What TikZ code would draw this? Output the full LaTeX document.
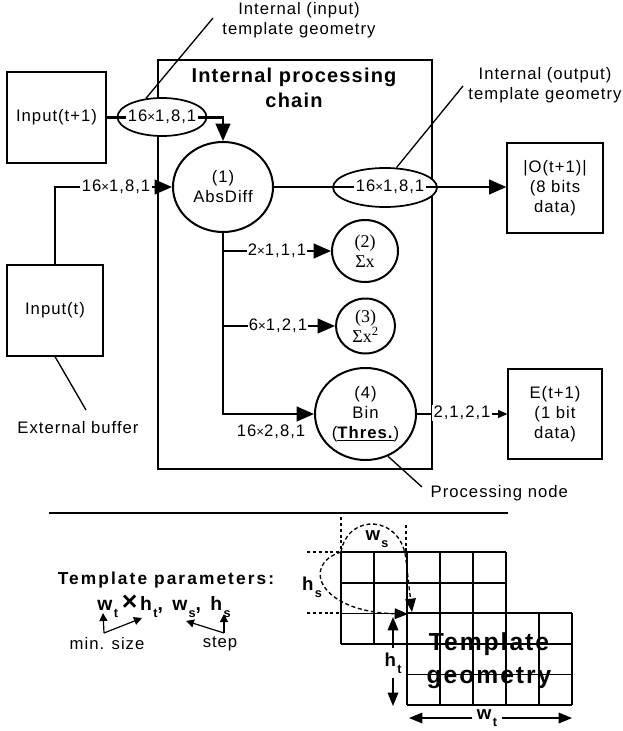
\documentclass[tikz,border=0pt]{standalone}
\usepackage{fontspec}
\setmainfont{Liberation Sans}[LetterSpace=6]
\newfontfamily\serx{Liberation Serif}
\usetikzlibrary{arrows.meta,shapes.geometric}
\newcommand\lsub[1]{\raisebox{-0.7ex}{\fontsize{9.5}{9.5}\selectfont\hspace{1pt}#1}}
\newcommand\tms{{\fontsize{10}{10}\selectfont ×}}
\begin{document}
\begin{tikzpicture}[x=0.75pt,y=-0.75pt,
  body/.style={font=\fontsize{12.5}{15}\selectfont},
  boxnode/.style={draw, line width=0.9pt, align=center, body, inner sep=0pt},
  proc/.style={ellipse, draw, line width=1.5pt, fill=white, align=center, inner sep=0pt, body},
  tmpl/.style={ellipse, draw, line width=1.3pt, fill=white, inner sep=0pt},
  conn/.style={line width=1.6pt},
  bigtip/.style={-{Triangle[length=13pt,width=11pt]}},
  smalltip/.style={-{Triangle[length=7pt,width=6pt]}},
  tinytip/.style={-{Triangle[length=6pt,width=6pt]}},
  midtip/.style={-{Triangle[length=10pt,width=8pt]}},
  thinl/.style={line width=0.9pt},
  onl/.style={fill=white, inner sep=1pt, body},
  leader/.style={line width=1pt},
  gridl/.style={line width=1.2pt},
  dots/.style={line width=1pt, dash pattern=on 2.2pt off 2.2pt},
  dashl/.style={line width=1pt, dash pattern=on 3pt off 2pt},
  lbf/.style={font=\bfseries\fontsize{14}{16}\selectfont}
]
\useasboundingbox (0,0) rectangle (623,731);

% processing chain frame
\node[boxnode, minimum width=205.5pt, minimum height=306.75pt] (chain) at (295,264.5) {};
\node[font=\bfseries\fontsize{15}{18.75}\selectfont, align=center] (title) at (294,88) {Internal processing\\chain};

% external boxes
\node[boxnode, minimum width=74.25pt, minimum height=68.25pt] (in1) at (56.5,117.5) {Input(t+1)};
\node[boxnode, minimum width=72pt, minimum height=68.25pt] (in0) at (55,310.5) {Input(t)};
\node[boxnode, minimum width=72pt, minimum height=67.5pt] (obox) at (555,188) {|O(t+1)|\\(8 bits\\data)};
\node[boxnode, minimum width=70.5pt, minimum height=67.5pt] (ebox) at (555,414) {E(t+1)\\(1 bit\\data)};

% template ellipses
\node[tmpl, minimum width=66.75pt, minimum height=28.5pt] (t1) at (162,117) {};
\node[tmpl, minimum width=78pt, minimum height=29.25pt] (t2) at (385,187.5) {};

% processing nodes
\node[proc, minimum width=75pt, minimum height=67.5pt] (abs) at (223,187) {(1)\\AbsDiff};
\node[proc, minimum width=49.5pt, minimum height=46.5pt, font=\serx\fontsize{13.5}{15}\selectfont] (s1) at (365,251) {(2)\\Σx};
\node[proc, minimum width=44.25pt, minimum height=41.25pt, font=\serx\fontsize{13.5}{15}\selectfont] (s2) at (365.5,326) {(3)\\Σx\textsuperscript{2}};
\node[proc, minimum width=75.75pt, minimum height=69pt] (bin) at (365.5,414) {(4)\\Bin\\(\underline{\textbf{Thres.}})};

% connectors
\draw[conn,bigtip] (in1.east) -| (abs.north);
\node[onl] (l1) at (162,117) {16\tms1,8,1};
\draw[conn,bigtip] (in0.north) |- (abs.west);
\node[onl] (l0) at (116,187) {16\tms1,8,1};
\draw[conn,bigtip] (abs.east) -- (abs.east -| obox.west);
\node[onl] (l2) at (390,187) {16\tms1,8,1};
\draw[conn,bigtip] (abs.south) |- (bin.west);
\draw[conn,bigtip] (abs.south |- s1.west) -- (s1.west);
\node[onl] (l3) at (277,251) {2\tms1,1,1};
\draw[conn,bigtip] (abs.south |- s2.west) -- (s2.west);
\node[onl] (l4) at (278,326) {6\tms1,2,1};
\node[body] (l5) at (271,432) {16\tms2,8,1};
\draw[thinl,smalltip] (bin.east) -- (bin.east -| ebox.west);
\node[onl] (l6) at (462,413) {2,1,2,1};

% leaders and annotations
\node[body, align=center] (lab1) at (299,20) {Internal (input)\\template geometry};
\coordinate (c1) at (213,18);
\draw[leader] (t1.131) -- (c1);
\node[body, align=center] (lab2) at (545,85) {Internal (output)\\template geometry};
\coordinate (c2) at (463,86);
\draw[leader] (t2.60) -- (c2);
\node[body, anchor=west] (lab3) at (426,493) {Processing node};
\coordinate (c3) at (422,487);
\draw[leader] (bin.-62) -- (c3);
\node[body] (lab4) at (78,428) {External buffer};
\coordinate (c4) at (86,410);
\draw[leader] (in0.south) -- (c4);

% separator
\draw[line width=1pt] (49,513) -- (508,513);

% template parameters
\node[font=\bfseries\fontsize{13}{15}\selectfont\addfontfeatures{LetterSpace=12}] (tp) at (166,580) {Template parameters:};
\node[font=\bfseries\fontsize{14.5}{15}\selectfont\addfontfeatures{LetterSpace=10}] (fm) at (164,606) {w\lsub{t}\hspace{3pt}{\fontsize{20}{20}\selectfont ×}\hspace{2pt}h\lsub{t},\hspace{7pt}w\lsub{s},\hspace{7pt}h\lsub{s}};
\node[body] (ms) at (107,644) {min. size};
\node[body] (st) at (220,644) {step};
\coordinate (m0) at (104,633);
\coordinate (mw) at (103,613);
\coordinate (mh) at (142,618);
\coordinate (s0) at (224,633);
\coordinate (sh) at (224,614);
\coordinate (sw) at (186,621);
\draw[thinl,tinytip] (m0) -- (mw);
\draw[thinl,tinytip] (m0) -- (mh);
\draw[thinl,tinytip] (s0) -- (sh);
\draw[thinl,tinytip] (s0) -- (sw);

% grids
\foreach \i in {0,...,5} \draw[gridl] ({341+33*\i},552) -- ({341+33*\i},644);
\foreach \j in {0,...,3} \draw[gridl] (341,{552+30.7*\j}) -- (506,{552+30.7*\j});
\fill[white] (407,613) rectangle (572,705);
\foreach \i in {0,...,5} \draw[gridl] ({407+33*\i},613) -- ({407+33*\i},705);
\foreach \j in {0,...,3} \draw[gridl] (407,{613+30.7*\j}) -- (572,{613+30.7*\j});
\node[font=\bfseries\fontsize{18.5}{24.75}\selectfont\addfontfeatures{LetterSpace=8}, align=center] (tg) at (489,661) {Template\\geometry};

% dotted guides
\draw[dots] (341,517) -- (341,552);
\draw[dots] (406,525) -- (406,555);
\draw[dots] (307,552) -- (341,552);
\draw[dots] (307,613) -- (341,613);

% step curves
\coordinate (g0) at (341,552);
\coordinate (gw) at (412,612);
\coordinate (gh) at (408,614);
\draw[dashl,midtip] (g0) .. controls (348,512) and (402,515) .. (406,560) -- (gw);
\draw[dashl,midtip] (g0) .. controls (300,565) and (320,612) .. (gh);
\node[lbf] (ws) at (377,539) {w\lsub{s}};
\node[lbf] (hs) at (312,587) {h\lsub{s}};

% size arrows
\node[lbf] (ht) at (393,663) {h\lsub{t}};
\coordinate (htu) at (393,617);
\coordinate (htd) at (393,706);
\draw[thinl,midtip] (ht.north) -- (htu);
\draw[thinl,midtip] (ht.south) -- (htd);
\node[lbf] (wt) at (487,718) {w\lsub{t}};
\coordinate (wtl) at (409,718);
\coordinate (wtr) at (572,718);
\draw[thinl,midtip] (wt.west) -- (wtl);
\draw[thinl,midtip] (wt.east) -- (wtr);
\end{tikzpicture}
\end{document}
